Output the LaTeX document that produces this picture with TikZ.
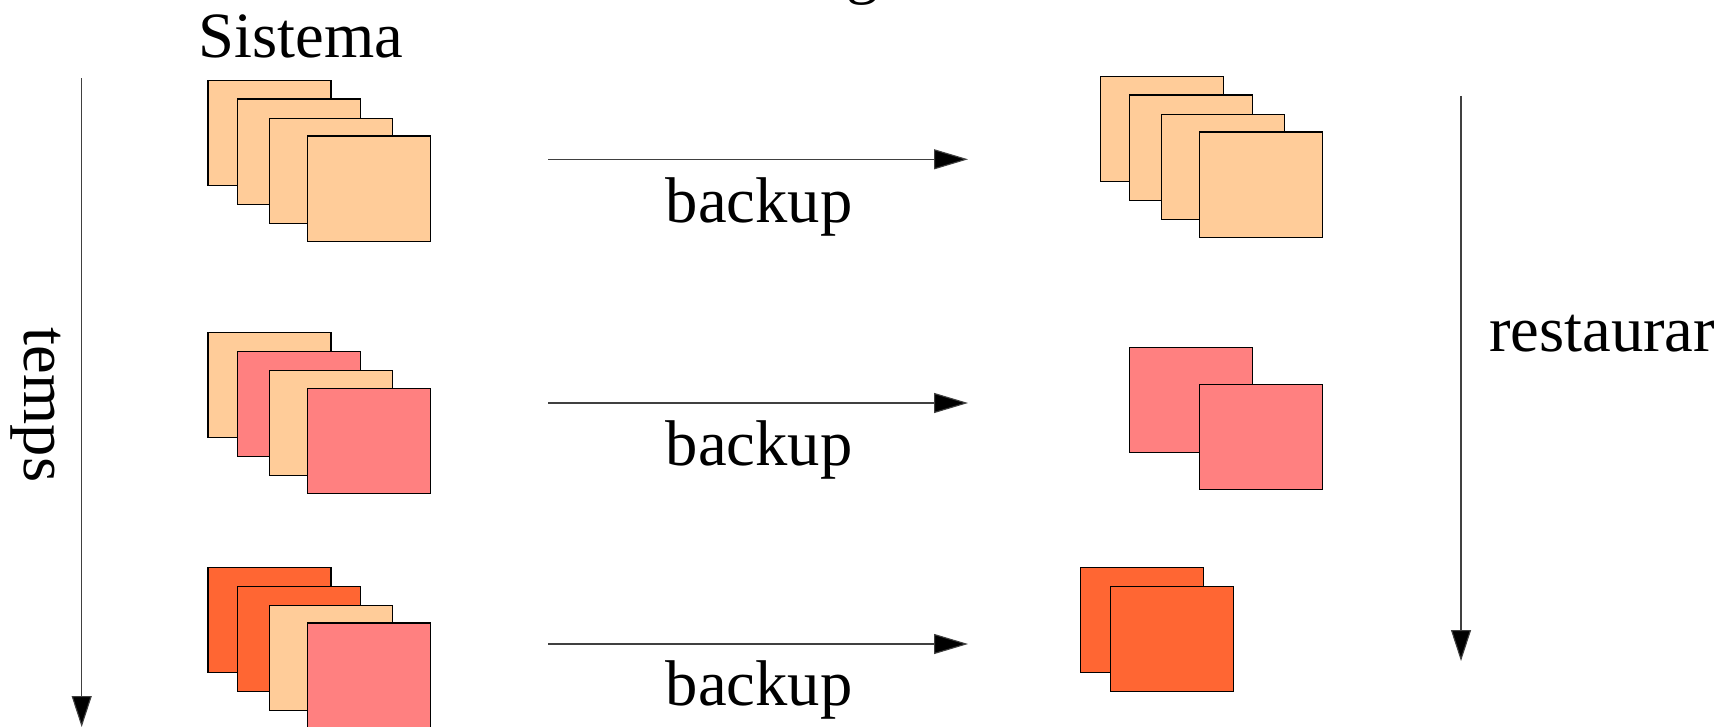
\documentclass[tikz,border=0pt]{standalone}
\usepackage{fontspec}
\setmainfont{Liberation Serif}
\usetikzlibrary{arrows.meta}

\definecolor{sheetA}{HTML}{FFCC99}
\definecolor{sheetB}{HTML}{FF8080}
\definecolor{sheetC}{HTML}{FF6633}

\begin{document}
\begin{tikzpicture}[x=0.5pt,y=-0.5pt,
  sheet/.style={draw=black, line width=0.55pt, minimum width=61.5pt,
    minimum height=52.6pt, inner sep=0pt, outer sep=0pt, anchor=north west},
  label/.style={font=\fontsize{32.3}{37}\selectfont, inner sep=0pt, anchor=base},
  flow/.style={draw=black!75, line width=0.55pt,
    -{Triangle[length=17pt,width=10pt,fill=black]}},
  timeline/.style={draw=black!75, line width=0.55pt,
    -{Triangle[length=15.5pt,width=10pt,fill=black]}}]

\useasboundingbox (0,0) rectangle (1733,727);
\clip (0,0) rectangle (1733,727);

% title, mostly above the page
\node[label, anchor=base west] (title) at (846,-8) {g};

% system state, three moments in time
\node[sheet, fill=sheetA] (s1a) at (208,80.7) {};
\node[sheet, fill=sheetA] (s1b) at (237.3,99) {};
\node[sheet, fill=sheetA] (s1c) at (269.3,118.7) {};
\node[sheet, fill=sheetA] (s1d) at (307.3,136) {};

\node[sheet, fill=sheetA] (s2a) at (208,332.3) {};
\node[sheet, fill=sheetB] (s2b) at (237.3,351.3) {};
\node[sheet, fill=sheetA] (s2c) at (269.3,370.7) {};
\node[sheet, fill=sheetB] (s2d) at (307.3,388.3) {};

\node[sheet, fill=sheetC] (s3a) at (208,567.3) {};
\node[sheet, fill=sheetC] (s3b) at (237.3,586.3) {};
\node[sheet, fill=sheetA] (s3c) at (269.3,605.7) {};
\node[sheet, fill=sheetB] (s3d) at (307.3,623) {};

% backup copies
\node[sheet, fill=sheetA] (b1a) at (1100.3,76.3) {};
\node[sheet, fill=sheetA] (b1b) at (1129.3,95) {};
\node[sheet, fill=sheetA] (b1c) at (1161.7,114.7) {};
\node[sheet, fill=sheetA] (b1d) at (1199.7,132) {};

\node[sheet, fill=sheetB] (b2a) at (1129.3,347.3) {};
\node[sheet, fill=sheetB] (b2b) at (1199.7,384.3) {};

\node[sheet, fill=sheetC] (b3a) at (1080.7,567.3) {};
\node[sheet, fill=sheetC] (b3b) at (1110.3,586.3) {};

% labels
\node[label] (sistema) at (301,58) {Sistema};
\node[label, rotate=-90] (temps) at (25,405) {temps};
\node[label] (restaurar) at (1602,351) {restaurar};
\node[label] (bk1) at (759,222) {backup};
\node[label] (bk2) at (759,465) {backup};
\node[label] (bk3) at (759,705) {backup};

% arrow end points
\coordinate (t0) at (81.7,78.3);
\coordinate (t1) at (81.7,727);
\coordinate (r0) at (1461,96);
\coordinate (r1) at (1461,661);
\coordinate (a1s) at (548,159.3);
\coordinate (a1e) at (968,159.3);
\coordinate (a2s) at (548,403);
\coordinate (a2e) at (968,403);
\coordinate (a3s) at (548,644);
\coordinate (a3e) at (968,644);

\draw[timeline] (t0) -- (t1);
\draw[timeline] (r0) -- (r1);
\draw[flow] (a1s) -- (a1e);
\draw[flow] (a2s) -- (a2e);
\draw[flow] (a3s) -- (a3e);
\end{tikzpicture}
\end{document}
